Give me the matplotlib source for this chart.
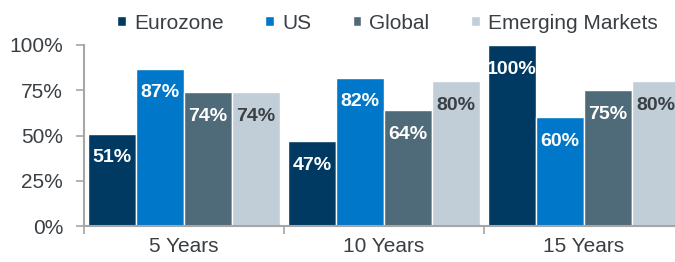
import matplotlib
matplotlib.use("Agg")
import matplotlib.pyplot as plt
import numpy as np

categories = ["5 Years", "10 Years", "15 Years"]
series_names = ["Eurozone", "US", "Global", "Emerging Markets"]
eurozone = [51, 47, 100]
us = [87, 82, 60]
global_ = [74, 64, 75]
emerging = [74, 80, 80]
yticks = [0, 25, 50, 75, 100]

values = [eurozone, us, global_, emerging]
colors = ["#003a63", "#0077c8", "#4f6a78", "#c1ced8"]
label_colors = ["white", "white", "white", "#3a3f44"]
text_color = "#3a3f44"
spine_color = "#a6a6a6"

plt.rcParams['font.family'] = ['Liberation Sans', 'DejaVu Sans']

fig = plt.figure(figsize=(6.75, 2.62), dpi=100)
ax = fig.add_axes([84/675, 36/262, 600/675, 181/262])

x = np.arange(len(categories))
w = 0.24
offsets = (np.arange(4) - 1.5) * w
for i, (vals, c, lc, name) in enumerate(zip(values, colors, label_colors, series_names)):
    bars = ax.bar(x + offsets[i], vals, width=w, color=c, edgecolor="white",
                  linewidth=1.0, label=name, zorder=2)
    for b, v in zip(bars, vals):
        ax.annotate(f"{v}%", xy=(b.get_x() + b.get_width()/2, v),
                    xytext=(0, -17.5), textcoords="offset points",
                    ha="center", va="center", fontsize=14, fontweight="bold",
                    color=lc, zorder=3)

ax.set_xlim(-0.5, 2.5)
ax.set_ylim(0, 100)
ax.set_yticks(yticks)
ax.set_yticklabels([f"{t}%" for t in yticks], fontsize=15, color=text_color)
ax.set_xticks(x - 0.5)
ax.set_xticklabels([])
ax.set_xticks(x, minor=True)
ax.set_xticklabels(categories, minor=True, fontsize=15, color=text_color)
ax.tick_params(axis="x", which="minor", length=0, pad=8)
ax.tick_params(axis="x", which="major", length=6, width=1.2, color=spine_color, direction="out")
ax.tick_params(axis="y", length=6, width=1.2, color=spine_color, direction="out", pad=9)

for s in ["top", "right"]:
    ax.spines[s].set_visible(False)
for s in ["left", "bottom"]:
    ax.spines[s].set_color(spine_color)
    ax.spines[s].set_linewidth(1.5)

handles, labels = ax.get_legend_handles_labels()
fig.legend(handles, labels, loc="center", bbox_to_anchor=(0.574, 0.912), ncol=4,
           frameon=False, fontsize=15, handlelength=0.4, handleheight=0.4,
           handletextpad=0.4, columnspacing=2.0, labelcolor=text_color)

fig.savefig("out.png", dpi=100)
